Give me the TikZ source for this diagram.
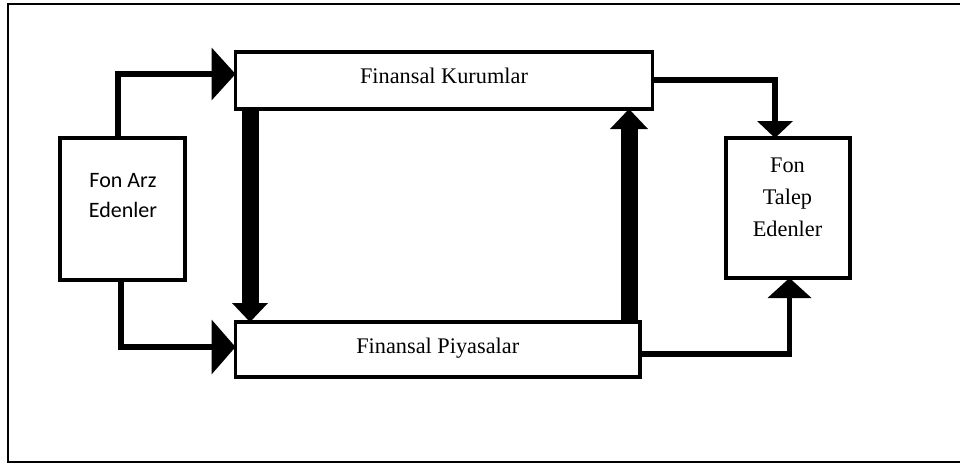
\documentclass[tikz,border=0pt]{standalone}
\usepackage{fontspec}
\setmainfont{Liberation Serif}
\newfontfamily\calfont{Carlito}
\usetikzlibrary{arrows.meta}
\begin{document}
\begin{tikzpicture}[x=1pt,y=-1pt,
  box/.style={draw=black, line width=3.5pt, fill=white, inner sep=0pt, outer sep=0pt, rectangle, anchor=center},
  conn/.style={draw=black, line width=5.5pt, line join=miter},
  thick arrow/.style={draw=black, line width=17pt},
  txt/.style={inner sep=0pt, outer sep=0pt},
  serifbig/.style={font=\fontsize{22.3}{32}\selectfont},
  calbig/.style={font=\calfont\fontsize{22}{30}\selectfont},
]
\useasboundingbox (0,0) rectangle (960,463);
% outer frame
\draw[line width=2pt] (962,4) -- (8,4) -- (8,462) -- (962,462);

% boxes
\node[box, minimum width=417pt, minimum height=57pt, serifbig, text height=15pt, text depth=10pt] (kur) at (444,80.5) {Finansal Kurumlar};
\node[box, minimum width=404.5pt, minimum height=55pt, serifbig, text height=15pt, text depth=8pt] (piy) at (437.75,349.5) {Finansal Piyasalar};
\node[box, minimum width=125pt, minimum height=142pt] (arz) at (122.5,209) {};
\node[box, minimum width=124pt, minimum height=140pt] (tal) at (788,208) {};

\node[txt, calbig, align=center, anchor=base] (arzt) at (123,217) {Fon Arz\\Edenler};
\node[txt, serifbig, align=center, anchor=base] (talt) at (787.5,236) {Fon\\Talep\\Edenler};

% connectors left
\draw[conn, -{Triangle[length=24pt,width=53pt,line width=0pt]}]
  ([xshift=-4.5pt]arz.north) |- ([yshift=6.5pt]kur.west);
\draw[conn, -{Triangle[length=24pt,width=55pt,line width=0pt]}]
  ([xshift=-1.5pt]arz.south) |- ([yshift=2.5pt]piy.west);

% thick vertical arrows
\draw[thick arrow, -{Triangle[length=19pt,width=36pt,line width=0pt]}]
  (kur.south -| 250,0) -- (piy.north -| 250,0);
\draw[thick arrow, -{Triangle[length=20pt,width=38pt,line width=0pt]}]
  (piy.north -| 629,0) -- (kur.south -| 629,0);

% connectors right
\draw[conn, -{Triangle[length=17pt,width=36pt,line width=0pt]}]
  ([yshift=0.5pt]kur.east) -| ([xshift=-13pt]tal.north);
\draw[conn, -{Triangle[length=20pt,width=44pt,line width=0pt]}]
  ([yshift=-4.5pt]piy.east) -| ([xshift=1.5pt]tal.south);
\end{tikzpicture}
\end{document}
